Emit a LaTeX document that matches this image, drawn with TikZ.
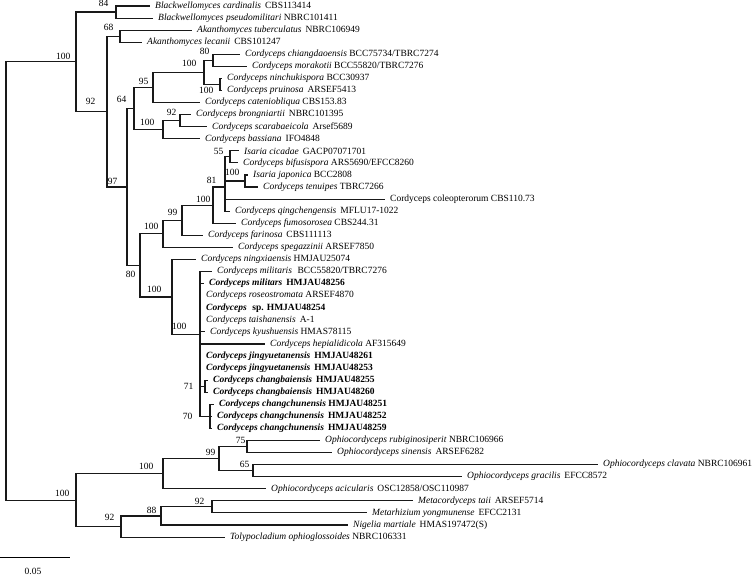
\documentclass[tikz,border=0pt]{standalone}
\usepackage{fontspec}
\setmainfont{Liberation Serif}
\usetikzlibrary{positioning}
\tikzset{
	br/.style   ={line width=1.1pt, draw=black!90},
	leaf/.style ={anchor=west, inner xsep=5pt, inner ysep=0pt, font=\fontsize{9.5}{11}\selectfont},
	bs/.style   ={inner sep=0.5pt, font=\fontsize{9.5}{11}\selectfont},
}

\begin{document}
\begin{tikzpicture}[x=1pt, y=-12.07pt]
	\useasboundingbox (0,0.503) rectangle (756,48.22);
	% internal nodes (x in pt, y in leaf rows)
	\coordinate (root) at (6,23.78);
	\coordinate (a) at (76,5.625);      \coordinate (b) at (76,41.94);
	\coordinate (n84) at (116,1.5);     \coordinate (n92) at (107,9.75);
	\coordinate (n68) at (120,3.5);     \coordinate (n97) at (127,16.0);
	\coordinate (n64) at (134,9.5);     \coordinate (n95) at (153,7.75);
	\coordinate (n100a) at (204,6.5);   \coordinate (n80a) at (213,5.5);
	\coordinate (n100b) at (220,7.5);   \coordinate (n100c) at (163,11.25);
	\coordinate (n92b) at (180,10.5);   \coordinate (n80b) at (140,22.49);
	\coordinate (n100d) at (163,19.875);\coordinate (n99) at (182,18.75);
	\coordinate (n100f) at (213,17.5);  \coordinate (n81) at (225,16);
	\coordinate (n55) at (230,13.5);    \coordinate (n100g) at (245,15.5);
	\coordinate (n100e) at (172,25.11); \coordinate (n100h) at (200,28.23);
	\coordinate (n71) at (205,32.5);    \coordinate (n70) at (210,35);
	\coordinate (n100i) at (163,39.75); \coordinate (n99b) at (219,38.5);
	\coordinate (n75) at (247,37.5);    \coordinate (n65) at (253,39.5);
	\coordinate (n92d) at (121,44.125); \coordinate (n88) at (161,43.25);
	\coordinate (n92c) at (212,42.5);

	% taxa
	\node[leaf] (l1) at (150,1) {\textit{Blackwellomyces cardinalis}\, CBS113414};
	\node[leaf] (l2) at (153,2) {\textit{Blackwellomyces pseudomilitari} NBRC101411};
	\node[leaf] (l3) at (192,3) {\textit{Akanthomyces tuberculatus}\, NBRC106949};
	\node[leaf] (l4) at (142,4) {\textit{Akanthomyces lecanii}\, CBS101247};
	\node[leaf] (l5) at (240,5) {\textit{Cordyceps chiangdaoensis} BCC75734/TBRC7274};
	\node[leaf] (l6) at (247,6) {\textit{Cordyceps morakotii} BCC55820/TBRC7276};
	\node[leaf] (l7) at (222,7) {\textit{Cordyceps ninchukispora} BCC30937};
	\node[leaf] (l8) at (222,8) {\textit{Cordyceps pruinosa}\, ARSEF5413};
	\node[leaf] (l9) at (200,9) {\textit{Cordyceps cateniobliqua} CBS153.83};
	\node[leaf] (l10) at (191,10) {\textit{Cordyceps brongniartii}\, NBRC101395};
	\node[leaf] (l11) at (207,11) {\textit{Cordyceps scarabaeicola}\, Arsef5689};
	\node[leaf] (l12) at (200,12) {\textit{Cordyceps bassiana}\, IFO4848};
	\node[leaf] (l13) at (239,13) {\textit{Isaria cicadae}\, GACP07071701};
	\node[leaf] (l14) at (238,14) {\textit{Cordyceps bifusispora} ARS5690/EFCC8260};
	\node[leaf] (l15) at (248,15) {\textit{Isaria japonica} BCC2808};
	\node[leaf] (l16) at (258,16) {\textit{Cordyceps tenuipes} TBRC7266};
	\node[leaf] (l17) at (385,17) {Cordyceps coleopterorum CBS110.73};
	\node[leaf] (l18) at (230,18) {\textit{Cordyceps qingchengensis}\, MFLU17-1022};
	\node[leaf] (l19) at (236,19) {\textit{Cordyceps fumosorosea} CBS244.31};
	\node[leaf] (l20) at (203,20) {\textit{Cordyceps farinosa}\, CBS111113};
	\node[leaf] (l21) at (233,21) {\textit{Cordyceps spegazzinii} ARSEF7850};
	\node[leaf] (l22) at (196,22) {\textit{Cordyceps ningxiaensis} HMJAU25074};
	\node[leaf] (l23) at (212,23) {\textit{Cordyceps militaris}\,\, BCC55820/TBRC7276};
	\node[leaf] (l24) at (204,24) {\textbf{\textit{Cordyceps militars}\, HMJAU48256}};
	\node[leaf] (l25) at (201,25) {\textit{Cordyceps roseostromata} ARSEF4870};
	\node[leaf] (l26) at (201,26) {\textbf{\textit{Cordyceps}\,\, sp. HMJAU48254}};
	\node[leaf] (l27) at (201,27) {\textit{Cordyceps taishanensis}\, A-1};
	\node[leaf] (l28) at (205,28) {\textit{Cordyceps kyushuensis} HMAS78115};
	\node[leaf] (l29) at (265,29) {\textit{Cordyceps hepialidicola} AF315649};
	\node[leaf] (l30) at (201,30) {\textbf{\textit{Cordyceps jingyuetanensis}\, HMJAU48261}};
	\node[leaf] (l31) at (201,31) {\textbf{\textit{Cordyceps jingyuetanensis}\, HMJAU48253}};
	\node[leaf] (l32) at (208,32) {\textbf{\textit{Cordyceps changbaiensis}\, HMJAU48255}};
	\node[leaf] (l33) at (208,33) {\textbf{\textit{Cordyceps changbaiensis}\, HMJAU48260}};
	\node[leaf] (l34) at (214,34) {\textbf{\textit{Cordyceps changchunensis} HMJAU48251}};
	\node[leaf] (l35) at (212,35) {\textbf{\textit{Cordyceps changchunensis}\, HMJAU48252}};
	\node[leaf] (l36) at (212,36) {\textbf{\textit{Cordyceps changchunensis}\, HMJAU48259}};
	\node[leaf] (l37) at (320,37) {\textit{Ophiocordyceps rubiginosiperit} NBRC106966};
	\node[leaf] (l38) at (332,38) {\textit{Ophiocordyceps sinensis}\, ARSEF6282};
	\node[leaf] (l39) at (598,39) {\textit{Ophiocordyceps clavata} NBRC106961};
	\node[leaf] (l40) at (462,40) {\textit{Ophiocordyceps gracilis}\, EFCC8572};
	\node[leaf] (l41) at (266,41) {\textit{Ophiocordyceps acicularis}\, OSC12858/OSC110987};
	\node[leaf] (l42) at (413,42) {\textit{Metacordyceps taii}\, ARSEF5714};
	\node[leaf] (l43) at (367,43) {\textit{Metarhizium yongmunense}\, EFCC2131};
	\node[leaf] (l44) at (348,44) {\textit{Nigelia martiale}\, HMAS197472(S)};
	\node[leaf] (l45) at (225,45) {\textit{Tolypocladium ophioglossoides} NBRC106331};

	% branches
	\draw[br] (root) |- (a);  \draw[br] (root) |- (b);
	\draw[br] (a) |- (n84);   \draw[br] (a) |- (n92);
	\draw[br] (n84) |- (l1.west); \draw[br] (n84) |- (l2.west);
	\draw[br] (n92) |- (n68); \draw[br] (n92) |- (n97);
	\draw[br] (n68) |- (l3.west); \draw[br] (n68) |- (l4.west);
	\draw[br] (n97) |- (n64); \draw[br] (n97) |- (n80b);
	\draw[br] (n64) |- (n95); \draw[br] (n64) |- (n100c);
	\draw[br] (n95) |- (n100a); \draw[br] (n95) |- (l9.west);
	\draw[br] (n100a) |- (n80a); \draw[br] (n100a) |- (n100b);
	\draw[br] (n80a) |- (l5.west); \draw[br] (n80a) |- (l6.west);
	\draw[br] (n100b) |- (l7.west); \draw[br] (n100b) |- (l8.west);
	\draw[br] (n100c) |- (n92b); \draw[br] (n100c) |- (l12.west);
	\draw[br] (n92b) |- (l10.west); \draw[br] (n92b) |- (l11.west);
	\draw[br] (n80b) |- (n100d); \draw[br] (n80b) |- (n100e);
	\draw[br] (n100d) |- (n99); \draw[br] (n100d) |- (l21.west);
	\draw[br] (n99) |- (n100f); \draw[br] (n99) |- (l20.west);
	\draw[br] (n100f) |- (n81); \draw[br] (n100f) |- (l19.west);
	\draw[br] (n81) |- (n55); \draw[br] (n81) |- (n100g);
	\draw[br] (n81) |- (l17.west); \draw[br] (n81) |- (l18.west);
	\draw[br] (n55) |- (l13.west); \draw[br] (n55) |- (l14.west);
	\draw[br] (n100g) |- (l15.west); \draw[br] (n100g) |- (l16.west);
	\draw[br] (n100e) |- (l22.west); \draw[br] (n100e) |- (n100h);
	\foreach \i in {23,...,31} \draw[br] (n100h) |- (l\i.west);
	\draw[br] (n100h) |- (n71); \draw[br] (n100h) |- (n70);
	\draw[br] (n71) |- (l32.west); \draw[br] (n71) |- (l33.west);
	\foreach \i in {34,35,36} \draw[br] (n70) |- (l\i.west);
	\draw[br] (b) |- (n100i); \draw[br] (b) |- (n92d);
	\draw[br] (n100i) |- (n99b); \draw[br] (n100i) |- (l41.west);
	\draw[br] (n99b) |- (n75); \draw[br] (n99b) |- (n65);
	\draw[br] (n75) |- (l37.west); \draw[br] (n75) |- (l38.west);
	\draw[br] (n65) |- (l39.west); \draw[br] (n65) |- (l40.west);
	\draw[br] (n92d) |- (n88); \draw[br] (n92d) |- (l45.west);
	\draw[br] (n88) |- (n92c); \draw[br] (n88) |- (l44.west);
	\draw[br] (n92c) |- (l42.west); \draw[br] (n92c) |- (l43.west);

	% bootstrap values
	\node[bs, above left=2pt and 5pt of a] {100};
	\node[bs, above left=2.5pt and 6pt of b] {100};
	\node[bs, above left=4.5pt and 7pt of n84] {84};
	\node[bs, above left=6pt and 11pt of n92] {92};
	\node[bs, above left=4.5pt and 6pt of n68] {68};
	\node[bs, above left=2pt and 9pt of n97] {97};
	\node[bs, above left=5pt and 7pt of n64] {64};
	\node[bs, above left=2pt and 4pt of n95] {95};
	\node[bs, above left=5pt and 7pt of n100a] {100};
	\node[bs, above left=5pt and 3pt of n80a] {80};
	\node[bs, below left=2pt and 6pt of n100b] {100};
	\node[bs, above left=3pt and 8pt of n100c] {100};
	\node[bs, above left=4pt and 3pt of n92b] {92};
	\node[bs, above left=1.5pt and 6pt of n55] {55};
	\node[bs, above left=4.5pt and 5pt of n100g] {100};
	\node[bs, above left=3pt and 8pt of n81] {81};
	\node[bs, above left=1.5pt and 2pt of n100f] {100};
	\node[bs, above left=3.5pt and 4pt of n99] {99};
	\node[bs, above left=3.5pt and 4pt of n100d] {100};
	\node[bs, below left=5pt and 4pt of n80b] {80};
	\node[bs, above left=3.5pt and 10pt of n100e] {100};
	\node[bs, above left=4pt and 13pt of n100h] {100};
	\node[bs, left=11pt of n71] {71};
	\node[bs, left=17pt of n70] {70};
	\node[bs, above left=3pt and 9pt of n100i] {100};
	\node[bs, above left=2pt and 3pt of n99b] {99};
	\node[bs, above left=2pt and 1pt of n75] {75};
	\node[bs, above left=2pt and 3pt of n65] {65};
	\node[bs, above left=5pt and 6pt of n92d] {92};
	\node[bs, above left=1.5pt and 4pt of n88] {88};
	\node[bs, above left=1.5pt and 7pt of n92c] {92};

	% scale bar
	\coordinate (sb1) at (0,46.73); \coordinate (sb2) at (70,46.73);
	\draw[line width=1pt] (sb1) -- (sb2);
	\node[bs] (sbl) at (33,47.85) {0.05};
\end{tikzpicture}
\end{document}
